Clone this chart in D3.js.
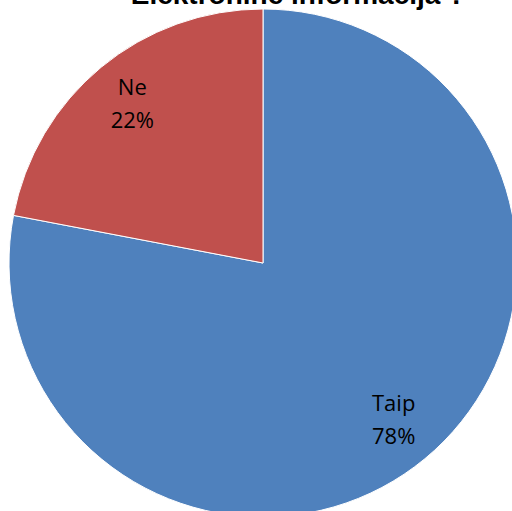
<!DOCTYPE html>
<html>
<head>
<meta charset="utf-8">
<script src="https://cdn.jsdelivr.net/npm/d3@7"></script>
<style>
  body { margin: 0; background: #fff; }
</style>
</head>
<body>
<div id="chart"></div>
<script>
const categories = ["Taip", "Ne"];
const values = [78, 22];
const colors = ["#4F81BD", "#C0504D"];
const title = "Elektroninė informacija ?";

const width = 512, height = 511,
  cx = 263, cy = 263,
  outerRadius = 254,
  labelRadius = 205;

const data = categories.map((c, i) => ({Category: c, Amount: values[i]}));

const arcs = d3.pie().sort(null).value(d => d.Amount)(data);
const arc = d3.arc().innerRadius(0).outerRadius(outerRadius);
const arcLabel = d3.arc().innerRadius(labelRadius).outerRadius(labelRadius);

const svg = d3.select("#chart")
  .append("svg")
  .attr("width", width)
  .attr("height", height);

const g = svg.append("g")
  .attr("transform", `translate(${cx},${cy})`);

g.append("g")     // thin white separators between slices
  .attr("stroke", "white")
  .attr("stroke-width", 1)
  .attr("stroke-linejoin", "round")
  .selectAll("path")
  .data(arcs)
  .join("path")
  .attr("fill", (d, i) => colors[i])
  .attr("d", arc);

g.append("g")
  .attr("font-family", "Open Sans, sans-serif")
  .attr("font-size", 22)
  .attr("text-anchor", "middle")
  .attr("fill", "#000")
  .selectAll("text")
  .data(arcs)
  .join("text")
  .attr("transform", d => `translate(${arcLabel.centroid(d)})`)
  .selectAll("tspan")
  .data(d => [d.data.Category, Math.round(d.value) + "%"])
  .join("tspan")
  .attr("x", 0)
  .attr("y", (d, i) => i ? "1.05em" : "-0.45em")
  .text(d => d);

// title, only its lower part shows at the top edge
svg.append("text")
  .attr("x", 298)
  .attr("y", 4)
  .attr("text-anchor", "middle")
  .attr("font-family", "Liberation Sans, Arial, sans-serif")
  .attr("font-weight", "bold")
  .attr("font-size", 28)
  .attr("fill", "#000")
  .text(title);
</script>
</body>
</html>
